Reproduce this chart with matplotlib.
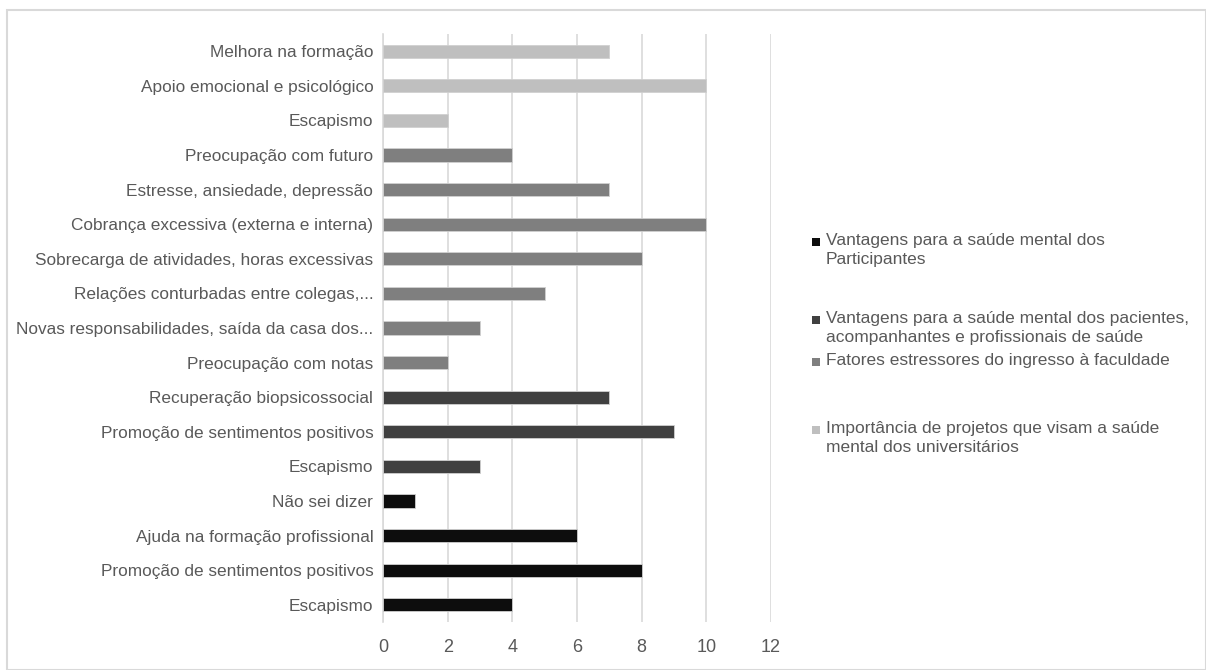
import matplotlib.pyplot as plt
from matplotlib.patches import Rectangle

plt.rcParams['font.family'] = ['Liberation Sans Narrow', 'Liberation Sans', 'DejaVu Sans']

# categories listed bottom to top, one list per group
participantes = ["Escapismo", "Promoção de sentimentos positivos",
                 "Ajuda na formação profissional", "Não sei dizer"]
participantes_vals = [4, 8, 6, 1]

pacientes = ["Escapismo", "Promoção de sentimentos positivos",
             "Recuperação biopsicossocial"]
pacientes_vals = [3, 9, 7]

estressores = ["Preocupação com notas", "Novas responsabilidades, saída da casa dos...",
               "Relações conturbadas entre colegas,...",
               "Sobrecarga de atividades, horas excessivas",
               "Cobrança excessiva (externa e interna)",
               "Estresse, ansiedade, depressão", "Preocupação com futuro"]
estressores_vals = [2, 3, 5, 8, 10, 7, 4]

importancia = ["Escapismo", "Apoio emocional e psicológico", "Melhora na formação"]
importancia_vals = [2, 10, 7]

series = [
    ("Vantagens para a saúde mental dos\nParticipantes", participantes, participantes_vals, "#0d0d0d"),
    ("Vantagens para a saúde mental dos pacientes,\nacompanhantes e profissionais de saúde", pacientes, pacientes_vals, "#404040"),
    ("Fatores estressores do ingresso à faculdade", estressores, estressores_vals, "#7f7f7f"),
    ("Importância de projetos que visam a saúde\nmental dos universitários", importancia, importancia_vals, "#bfbfbf"),
]

W, H = 1206, 670
fig = plt.figure(figsize=(W / 100, H / 100), dpi=100)
ax = fig.add_axes([383 / W, 1 - 622 / H, 388 / W, 588 / H])

labels = []
pos = 0
for name, cats, vals, color in series:
    ys = list(range(pos, pos + len(cats)))
    ax.barh(ys, vals, height=0.38, color=color, edgecolor="#d0d0d0", linewidth=0.6, zorder=3)
    labels += cats
    pos += len(cats)

ax.set_yticks(range(len(labels)))
ax.set_yticklabels(labels, fontsize=12.4, color="#595959")
ax.set_ylim(-0.5, len(labels) - 0.5)
ax.set_xlim(0, 12)
ax.set_xticks(range(0, 13, 2))
ax.tick_params(axis="x", labelsize=13, labelcolor="#595959", length=0, pad=12)
ax.tick_params(axis="y", length=0, pad=7)
ax.grid(axis="x", color="#d9d9d9", linewidth=1.2, zorder=0)
for s in ["top", "right", "bottom"]:
    ax.spines[s].set_visible(False)
ax.spines["left"].set_color("#d9d9d9")
ax.spines["left"].set_linewidth(1.2)

# outer chart frame
fig.patches.append(Rectangle((7 / W, 0), 1 - 7 / W, 1 - 10 / H, transform=fig.transFigure,
                             fill=False, edgecolor="#d9d9d9", linewidth=1.5))

# legend drawn by hand to keep the uneven entry spacing
legend_rows = [242, 320, 362, 430]
for (name, cats, vals, color), ymid in zip(series, legend_rows):
    fig.patches.append(Rectangle((812 / W, 1 - (ymid + 4) / H), 8 / W, 8 / H,
                                 transform=fig.transFigure, facecolor=color, edgecolor="none"))
    fig.text(826 / W, 1 - (ymid - 9) / H, name, fontsize=12.5, color="#595959",
             va="top", ha="left", linespacing=1.3)

fig.savefig("out.png", dpi=100, facecolor="white")
